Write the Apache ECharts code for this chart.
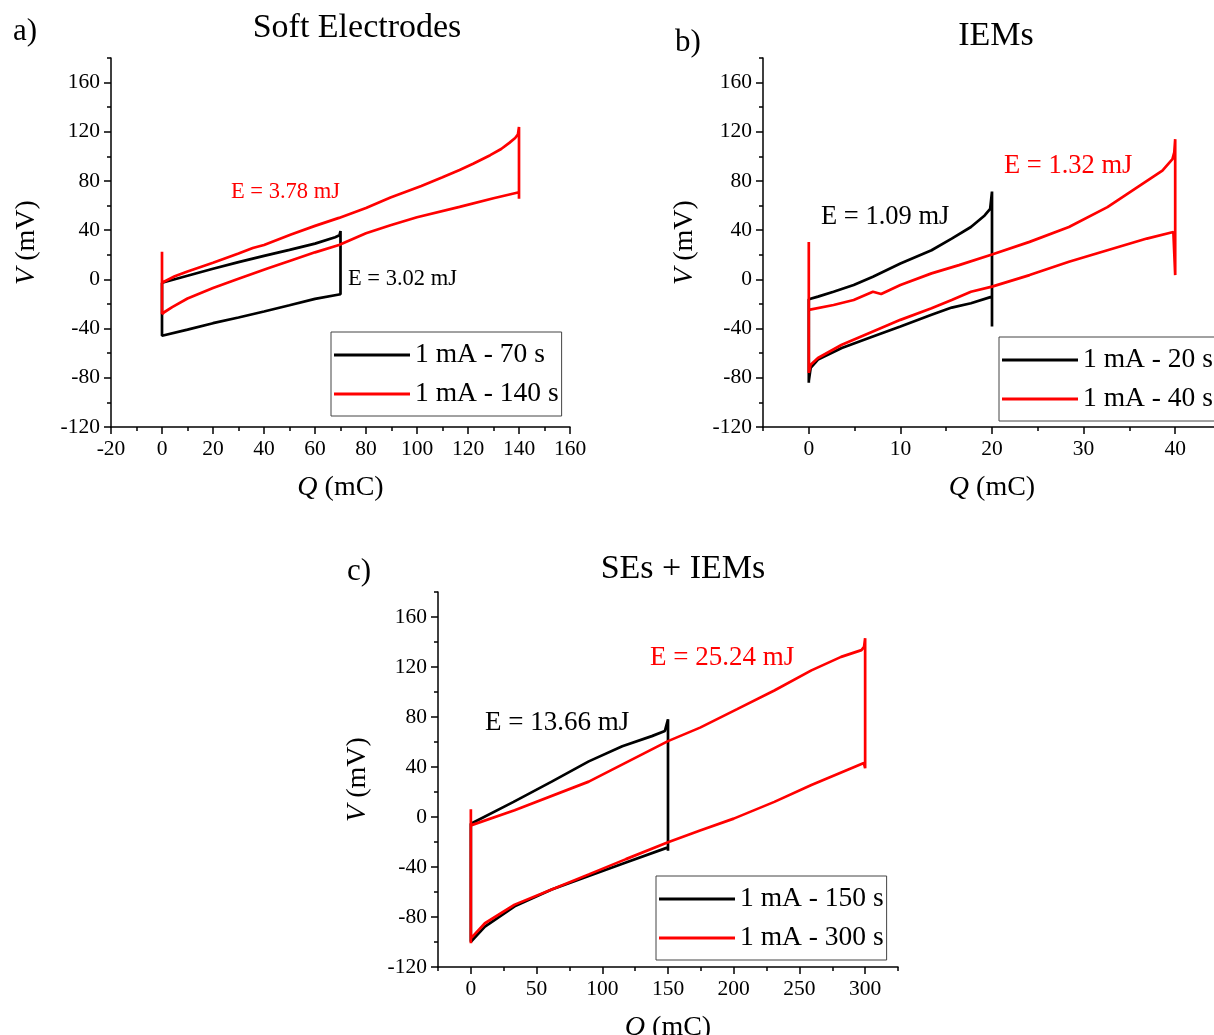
<!DOCTYPE html>
<html>
<head>
<meta charset="utf-8">
<script src="https://cdn.jsdelivr.net/npm/echarts@6/dist/echarts.min.js"></script>
<style>
html,body{margin:0;padding:0;background:#fff;}
#chart{width:1214px;height:1035px;}
</style>
</head>
<body>
<div id="chart"></div>
<script>
// ---------- DATA ----------
// Panel a) Soft Electrodes  [Q (mC), V (mV)]
const a70 = [[0,-2.7],[10,3],[20,8.7],[30,14],[40,19.1],[50,24],[60,29.1],[67.9,34.3],[69.6,35.8],[70,39.4],[70,-12.1],[70,-10.8],[60,-15.8],[50,-21],[40,-26.1],[30,-31],[20,-35.6],[10,-40.8],[0,-45.8],[0,-2.7]];
const a140 = [[0,-28.3],[0,22.4],[0,-2.7],[5,2.5],[10,6.5],[20,13.5],[30,21],[35.6,25.5],[40,28],[50.6,36.5],[60,43.5],[69.4,50],[80,58],[89.6,66.5],[101.7,76],[110,83],[116.7,89],[122,94],[128.7,101],[133,106],[136.2,111],[138.5,115],[139.6,118],[140,124],[140,65.5],[140,70.9],[130,66],[116.7,59],[100,50.5],[89.6,44],[80,37.5],[69.4,28],[60,22],[50,15],[41.6,9],[30,0.5],[20,-7],[10,-15.5],[4,-22.5],[1,-26.5],[0,-28.3]];
// Panel b) IEMs
const b20 = [[0,-84],[0,-16.2],[1,-14],[2.7,-10],[4.9,-4.6],[7,2.2],[10,12.9],[13.4,23.7],[15.6,33.2],[17.7,42.6],[19.2,52],[19.8,57.4],[20,71.4],[20,-38.3],[20,-14],[17.7,-19.4],[15.6,-22.9],[13.4,-28.8],[10,-38.3],[7,-46.4],[3.6,-55.8],[1,-65.2],[0.2,-72],[0,-82.7]];
const b40 = [[0,-76],[0,30.5],[0,-24.8],[0.2,-24.8],[2.7,-20.8],[4.9,-16.7],[7,-10],[7.9,-11.9],[10,-4.6],[13.4,4.9],[16.4,11.6],[20,20.2],[24.1,30.5],[28.4,42.6],[32.6,58.8],[35.6,73.6],[38.6,88.4],[39.7,97.8],[39.9,103.2],[40,114],[40,3.5],[39.8,38.5],[36.9,33.2],[32.6,23.7],[28.4,14.3],[24.1,3.5],[20,-5.9],[17.7,-10],[15.6,-16.7],[13.4,-23.5],[10,-32.9],[7,-42.3],[3.6,-53.1],[1,-63.9],[0.2,-69.3],[0,-76]];
// Panel c) SEs + IEMs
const c150 = [[0,-99.8],[0,-5.4],[32.5,12.1],[61.5,28.3],[89.7,44.5],[115.2,56.6],[137.7,64.7],[147.6,68.8],[150,78.2],[150,-27],[150,-24.3],[118,-36.4],[89.7,-47.2],[61.5,-58],[33.3,-71.5],[10.7,-87.7],[0,-99.8]];
const c300 = [[0,-101],[0,6.2],[0,-6.7],[33.3,5.4],[89.7,28.3],[150,60.7],[174.4,71.5],[202.6,86.3],[230.9,101.2],[259.1,117.3],[281.7,128.1],[297.2,133.5],[299.2,136.2],[300,143],[300,39.1],[299,43.2],[259.1,25.6],[230.9,12.1],[200,-1.3],[174.4,-10.8],[150,-20.2],[118,-33.7],[89.7,-45.9],[61.5,-58],[33.3,-70.1],[10.7,-85],[0,-97.1],[0,-101]];

// tick values
const vTicks = [-120,-80,-40,0,40,80,120,160];
const vMinor = [-100,-60,-20,20,60,100,140,180];
const aTicks = [-20,0,20,40,60,80,100,120,140,160];
const aMinor = [-10,10,30,50,70,90,110,130,150];
const bTicks = [0,10,20,30,40];
const bMinor = [-5,5,15,25,35,45];
const cTicks = [0,50,100,150,200,250,300];
const cMinor = [-25,25,75,125,175,225,275,325];

const names = ['1 mA - 70 s','1 mA - 140 s','1 mA - 20 s','1 mA - 40 s','1 mA - 150 s','1 mA - 300 s'];
const energies = ['E = 3.78 mJ','E = 3.02 mJ','E = 1.09 mJ','E = 1.32 mJ','E = 13.66 mJ','E = 25.24 mJ'];
const titles = ['Soft Electrodes','IEMs','SEs + IEMs'];
const panelTags = ['a)','b)','c)'];

// ---------- STYLE ----------
const FONT = "'Liberation Serif','DejaVu Serif',serif";
const RED = '#ff0000', BLK = '#000000';

const grids = [
  {left:111, top:58, width:459, height:369, outerBoundsMode:'none', containLabel:false},
  {left:763, top:58, width:458, height:369, outerBoundsMode:'none', containLabel:false},
  {left:438, top:592, width:460, height:375, outerBoundsMode:'none', containLabel:false}
];
const xr = [[-20,160],[-5,45],[-25,325]];
const xt = [aTicks,bTicks,cTicks];
const xm = [aMinor,bMinor,cMinor];
const yNameGap = [70,64,66];

const xAxis = [], yAxis = [];
for (let g=0; g<3; g++) {
  xAxis.push({
    type:'value', gridIndex:g, min:xr[g][0], max:xr[g][1], position:'bottom',
    name:'{i|Q} (mC)', nameLocation:'middle', nameGap:47,
    nameTextStyle:{fontFamily:FONT, fontSize:28, color:'#000', rich:{i:{fontStyle:'italic', fontFamily:FONT, fontSize:28, color:'#000'}}},
    axisLine:{onZero:false, lineStyle:{color:'#000', width:1.5}},
    axisTick:{show:true, inside:false, length:7, customValues:xt[g], lineStyle:{color:'#000', width:1.5}},
    axisLabel:{customValues:xt[g], margin:11, fontFamily:FONT, fontSize:21.5, color:'#000'},
    splitLine:{show:false}
  });
  xAxis.push({
    type:'value', gridIndex:g, min:xr[g][0], max:xr[g][1], position:'bottom',
    axisLine:{show:false, onZero:false},
    axisTick:{show:true, length:4, customValues:xm[g], lineStyle:{color:'#000', width:1.5}},
    axisLabel:{show:false}, splitLine:{show:false}
  });
  yAxis.push({
    type:'value', gridIndex:g, min:-120, max:180, position:'left',
    name:'{i|V} (mV)', nameLocation:'middle', nameGap:yNameGap[g],
    nameTextStyle:{fontFamily:FONT, fontSize:28, color:'#000', rich:{i:{fontStyle:'italic', fontFamily:FONT, fontSize:28, color:'#000'}}},
    axisLine:{onZero:false, lineStyle:{color:'#000', width:1.5}},
    axisTick:{show:true, length:7, customValues:vTicks, lineStyle:{color:'#000', width:1.5}},
    axisLabel:{customValues:vTicks, margin:11, fontFamily:FONT, fontSize:21.5, color:'#000'},
    splitLine:{show:false}
  });
  yAxis.push({
    type:'value', gridIndex:g, min:-120, max:180, position:'left',
    axisLine:{show:false, onZero:false},
    axisTick:{show:true, length:4, customValues:vMinor, lineStyle:{color:'#000', width:1.5}},
    axisLabel:{show:false}, splitLine:{show:false}
  });
}

const seriesData = [a70,a140,b20,b40,c150,c300];
const series = seriesData.map((d,i)=>({
  type:'line', name:names[i], data:d,
  xAxisIndex:Math.floor(i/2)*2, yAxisIndex:Math.floor(i/2)*2,
  showSymbol:false, symbol:'none', smooth:false, animation:false,
  lineStyle:{color: i%2===0?BLK:RED, width:2.7},
  itemStyle:{color: i%2===0?BLK:RED},
  z: i%2===0?2:3
}));

const legendPos = [[331,332],[999,337],[656,876]];
const legend = legendPos.map((p,k)=>({
  left:p[0], top:p[1], orient:'vertical',
  data:[names[2*k],names[2*k+1]],
  icon:'rect', itemWidth:76, itemHeight:3, itemGap:9, itemTextGap:6,
  padding:[8,3,7,3], borderColor:'#444', borderWidth:1, borderRadius:0,
  backgroundColor:'#fff',
  textStyle:{fontFamily:FONT, fontSize:27.5, color:'#000', lineHeight:30},
  selectedMode:false
}));

function txt(s, x, y, size, color, align) {
  return {type:'text', x:x, y:y, z:100,
    style:{text:s, fontFamily:FONT, fontSize:size, fill:color,
      textAlign:align||'left', textVerticalAlign:'middle'}};
}
const graphic = [
  txt(panelTags[0], 13, 32, 31, '#000'),
  txt(panelTags[1], 675, 43, 31, '#000'),
  txt(panelTags[2], 347, 572, 31, '#000'),
  txt(titles[0], 357, 28, 34, '#000', 'center'),
  txt(titles[1], 996, 36, 34, '#000', 'center'),
  txt(titles[2], 683, 569, 34, '#000', 'center'),
  txt(energies[0], 231, 192, 22.5, RED),
  txt(energies[1], 348, 279, 22.5, BLK),
  txt(energies[2], 821, 217, 26.5, BLK),
  txt(energies[3], 1004, 166, 26.5, RED),
  txt(energies[4], 485, 723, 27, BLK),
  txt(energies[5], 650, 658, 27, RED)
];

const chart = echarts.init(document.getElementById('chart'), null, {renderer:'canvas'});
chart.setOption({
  backgroundColor:'#fff', animation:false,
  grid:grids, xAxis:xAxis, yAxis:yAxis, series:series, legend:legend, graphic:graphic
});
</script>
</body>
</html>
